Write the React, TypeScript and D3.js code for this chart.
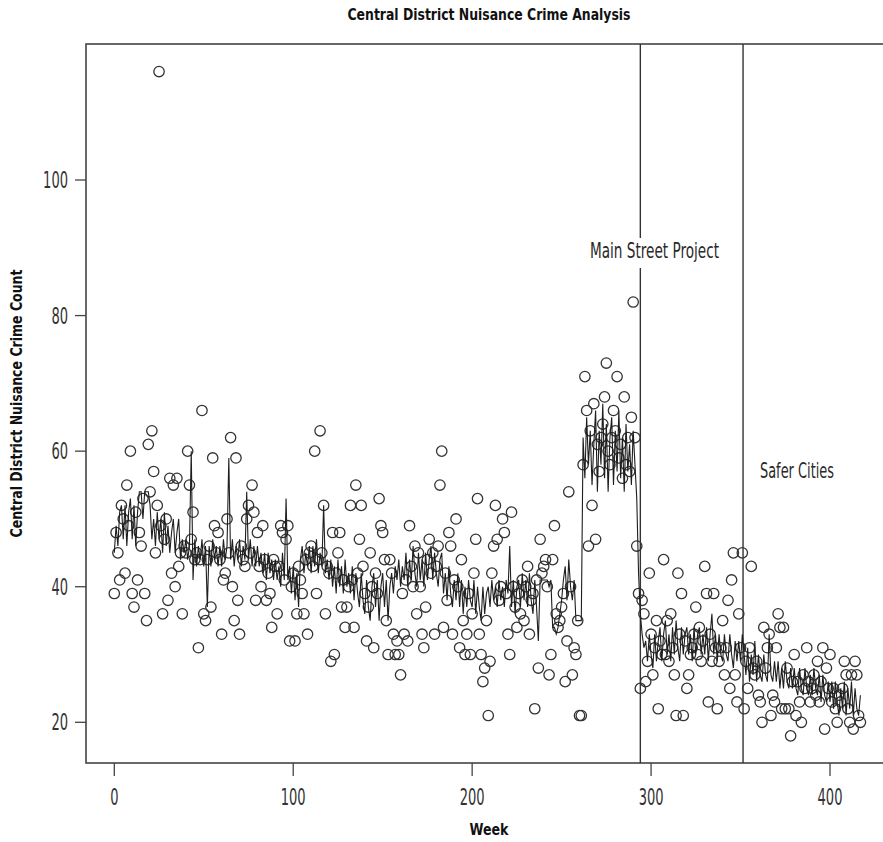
import React from "react";
import * as d3 from "d3";

// Weekly observed nuisance crime counts (circles), week = index
const observed: number[] = [
  39, 48, 45, 41, 52, 50, 42, 55, 49, 60,
  39, 37, 51, 41, 48, 46, 53, 39, 35, 61,
  54, 63, 57, 45, 52, 116, 49, 36, 47, 50,
  38, 56, 42, 55, 40, 56, 43, 45, 36, 46,
  45, 60, 55, 47, 51, 44, 45, 31, 44, 66,
  36, 35, 44, 46, 37, 59, 49, 45, 48, 44,
  33, 41, 42, 50, 45, 62, 40, 35, 59, 38,
  33, 46, 44, 43, 50, 52, 45, 55, 51, 38,
  48, 43, 40, 49, 44, 38, 42, 39, 34, 44,
  43, 36, 43, 49, 48, 41, 47, 49, 32, 40,
  42, 32, 36, 43, 41, 39, 36, 44, 33, 45,
  46, 43, 60, 39, 44, 63, 45, 52, 36, 43,
  42, 29, 48, 30, 42, 45, 48, 37, 41, 34,
  37, 40, 52, 41, 34, 55, 42, 47, 52, 43,
  39, 32, 37, 45, 40, 31, 42, 39, 53, 49,
  48, 44, 35, 30, 44, 42, 33, 30, 32, 30,
  27, 39, 33, 41, 32, 49, 43, 40, 46, 36,
  45, 40, 33, 31, 37, 44, 47, 42, 45, 33,
  43, 46, 55, 60, 34, 42, 38, 48, 46, 33,
  41, 50, 40, 31, 44, 35, 30, 33, 39, 30,
  36, 42, 47, 53, 33, 30, 26, 28, 35, 21,
  29, 42, 46, 52, 47, 38, 40, 50, 48, 39,
  33, 30, 51, 40, 37, 34, 39, 36, 41, 35,
  40, 43, 33, 38, 39, 22, 41, 28, 47, 42,
  43, 44, 40, 27, 30, 44, 49, 36, 34, 35,
  37, 39, 26, 32, 54, 40, 27, 31, 30, 35,
  21, 21, 58, 71, 66, 46, 63, 52, 67, 47,
  61, 57, 62, 64, 68, 73, 60, 58, 62, 66,
  63, 71, 59, 61, 56, 68, 58, 62, 57, 65,
  82, 62, 46, 39, 25, 38, 36, 26, 29, 42,
  33, 27, 31, 35, 22, 32, 30, 44, 30, 35,
  29, 36, 31, 27, 21, 42, 33, 39, 21, 32,
  25, 27, 30, 31, 33, 37, 30, 34, 29, 32,
  43, 39, 23, 33, 29, 39, 31, 22, 29, 31,
  35, 27, 31, 38, 25, 41, 45, 27, 23, 36,
  31, 45, 22, 29, 25, 31, 43, 28, 27, 29,
  24, 23, 20, 34, 28, 31, 33, 21, 24, 23,
  31, 36, 34, 22, 34, 22, 28, 22, 18, 26,
  30, 21, 26, 23, 20, 27, 25, 31, 26, 23,
  25, 27, 24, 29, 23, 26, 31, 19, 28, 25,
  30, 23, 25, 22, 20, 24, 23, 25, 29, 27,
  22, 20, 27, 19, 29, 27, 21, 20,
];

// Fitted model series (line), week = index
const fitted: number[] = [
  45, 49, 46, 51, 52, 47, 52, 46, 51, 53,
  47, 52, 46, 51, 54, 54, 50, 54, 54, 54,
  52, 47, 50, 46, 51, 47, 50, 45, 51, 46,
  49, 45, 48, 50, 45, 48, 50, 44, 47, 45,
  47, 44, 46, 60, 41, 47, 43, 46, 44, 47,
  43, 46, 37, 46, 43, 47, 44, 46, 43, 46,
  43, 47, 44, 46, 59, 44, 47, 43, 46, 44,
  47, 43, 46, 44, 54, 44, 47, 43, 46, 43,
  46, 43, 45, 42, 45, 41, 45, 42, 44, 41,
  44, 41, 43, 40, 45, 41, 53, 41, 43, 39,
  43, 38, 42, 37, 44, 46, 42, 45, 43, 46,
  42, 46, 43, 47, 42, 45, 43, 52, 42, 44,
  41, 44, 40, 43, 39, 44, 40, 43, 39, 44,
  40, 42, 39, 43, 38, 42, 39, 37, 42, 38,
  36, 41, 37, 35, 40, 42, 37, 41, 35, 40,
  42, 37, 41, 35, 40, 42, 39, 43, 41, 44,
  40, 43, 41, 45, 40, 44, 41, 46, 42, 40,
  45, 41, 44, 40, 45, 41, 44, 46, 41, 45,
  42, 40, 44, 45, 39, 42, 38, 43, 39, 37,
  41, 38, 42, 37, 41, 36, 40, 37, 41, 38,
  37, 41, 36, 40, 37, 35, 40, 36, 39, 40,
  37, 41, 38, 40, 37, 41, 38, 40, 37, 41,
  39, 46, 37, 41, 36, 40, 41, 37, 42, 38,
  41, 37, 42, 38, 36, 41, 37, 32, 41, 41,
  41, 41, 41, 40, 41, 34, 34, 33, 34, 36,
  38, 41, 43, 38, 44, 40, 38, 41, 35, 35,
  35, 35, 62, 56, 65, 58, 63, 55, 61, 66,
  54, 63, 58, 67, 56, 64, 54, 62, 65, 55,
  63, 57, 66, 56, 62, 54, 64, 57, 61, 55,
  63, 58, 53, 42, 36, 33, 31, 32, 29, 33,
  30, 28, 33, 29, 32, 34, 29, 33, 35, 30,
  33, 29, 34, 30, 35, 31, 29, 34, 30, 33,
  34, 30, 33, 29, 34, 30, 33, 34, 30, 33,
  30, 34, 29, 33, 36, 30, 33, 29, 33, 30,
  29, 33, 30, 29, 33, 30, 28, 32, 29, 32,
  29, 33, 30, 27, 31, 26, 30, 27, 32, 26,
  30, 27, 26, 30, 27, 26, 33, 27, 26, 29,
  26, 29, 25, 28, 25, 29, 26, 25, 28, 25,
  28, 25, 24, 28, 25, 24, 28, 25, 24, 27,
  24, 28, 25, 24, 27, 23, 27, 24, 23, 26,
  23, 26, 22, 26, 23, 21, 25, 22, 26, 21,
  25, 22, 26, 21, 25, 22, 21, 24,
];

const xTicks = [0, 100, 200, 300, 400];
const yTicks = [20, 40, 60, 80, 100];
const interventionWeeks = [294, 351.4];
const interventionLabels = ["Main Street Project", "Safer Cities"];

const title = "Central District Nuisance Crime Analysis";
const yTitle = "Central District Nuisance Crime Count";
const xTitle = "Week";

const W = 883;
const H = 842;
const plot = { left: 86, right: 895, top: 44, bottom: 763 };

const COND = "'Liberation Sans Narrow', 'Arial Narrow', 'DejaVu Sans Condensed', sans-serif";
const INK = "#2a2a2a";

export default function App() {
  const x = d3.scaleLinear().domain([0, 400]).range([114.3, 830]);
  const y = d3.scaleLinear().domain([20, 100]).range([722.3, 180]);

  const linePath = d3
    .line<number>()
    .x((_, i) => x(i))
    .y((d) => y(d))(fitted) as string;

  const digitW = 8.3;

  return (
    <div style={{ position: "absolute", left: 0, top: 0 }}>
      <svg width={W} height={H} style={{ display: "block", background: "#fff" }}>
        <rect x={0} y={0} width={W} height={H} fill="#fff" />

        {/* title */}
        <text
          x={489}
          y={20}
          textAnchor="middle"
          fontFamily={COND}
          fontWeight="bold"
          fontSize={16}
          fill="#111"
          textLength={283}
          lengthAdjust="spacingAndGlyphs"
        >
          {title}
        </text>

        {/* frame */}
        <rect
          x={plot.left}
          y={plot.top}
          width={plot.right - plot.left}
          height={plot.bottom - plot.top}
          fill="none"
          stroke="#444"
          strokeWidth={1.6}
        />

        {/* y axis ticks */}
        {yTicks.map((t) => (
          <g key={"y" + t}>
            <line x1={plot.left - 11} x2={plot.left} y1={y(t)} y2={y(t)} stroke="#444" strokeWidth={1.3} />
            <text
              x={68}
              y={y(t) + 8}
              textAnchor="end"
              fontFamily={COND}
              fontSize={23}
              fill="#333"
              textLength={String(t).length * digitW}
              lengthAdjust="spacingAndGlyphs"
            >
              {t}
            </text>
          </g>
        ))}

        {/* x axis ticks */}
        {xTicks.map((t) => (
          <g key={"x" + t}>
            <line x1={x(t)} x2={x(t)} y1={plot.bottom} y2={plot.bottom + 13} stroke="#444" strokeWidth={1.3} />
            <text
              x={x(t)}
              y={805}
              textAnchor="middle"
              fontFamily={COND}
              fontSize={23}
              fill="#333"
              textLength={String(t).length * digitW}
              lengthAdjust="spacingAndGlyphs"
            >
              {t}
            </text>
          </g>
        ))}

        {/* axis titles */}
        <text
          x={489}
          y={835}
          textAnchor="middle"
          fontFamily={COND}
          fontWeight="bold"
          fontSize={16}
          fill="#111"
          textLength={39}
          lengthAdjust="spacingAndGlyphs"
        >
          {xTitle}
        </text>
        <text
          transform={`translate(22, ${(plot.top + plot.bottom) / 2}) rotate(-90)`}
          textAnchor="middle"
          fontFamily={COND}
          fontWeight="bold"
          fontSize={16}
          fill="#111"
          textLength={268}
          lengthAdjust="spacingAndGlyphs"
        >
          {yTitle}
        </text>

        <clipPath id="plotclip">
          <rect x={plot.left} y={plot.top} width={plot.right - plot.left} height={plot.bottom - plot.top} />
        </clipPath>

        <g clipPath="url(#plotclip)">
          {/* intervention lines */}
          {interventionWeeks.map((w) => (
            <line
              key={"iv" + w}
              x1={x(w)}
              x2={x(w)}
              y1={plot.top}
              y2={plot.bottom}
              stroke="#333"
              strokeWidth={1.4}
            />
          ))}

          {/* observed points */}
          {observed.map((v, i) => (
            <circle
              key={"c" + i}
              cx={x(i)}
              cy={y(v)}
              r={5.2}
              fill="none"
              stroke="#333"
              strokeWidth={1.3}
            />
          ))}

          {/* fitted line */}
          <path d={linePath} fill="none" stroke="#1e1e1e" strokeWidth={1.1} />

          {/* intervention labels */}
          <rect x={586} y={238} width={137} height={30} fill="#fff" />
          <text
            x={590}
            y={258}
            fontFamily={COND}
            fontSize={21}
            fill={INK}
            textLength={129}
            lengthAdjust="spacingAndGlyphs"
          >
            {interventionLabels[0]}
          </text>
          <text
            x={760}
            y={478}
            fontFamily={COND}
            fontSize={21}
            fill={INK}
            textLength={74}
            lengthAdjust="spacingAndGlyphs"
          >
            {interventionLabels[1]}
          </text>
        </g>
      </svg>
    </div>
  );
}
